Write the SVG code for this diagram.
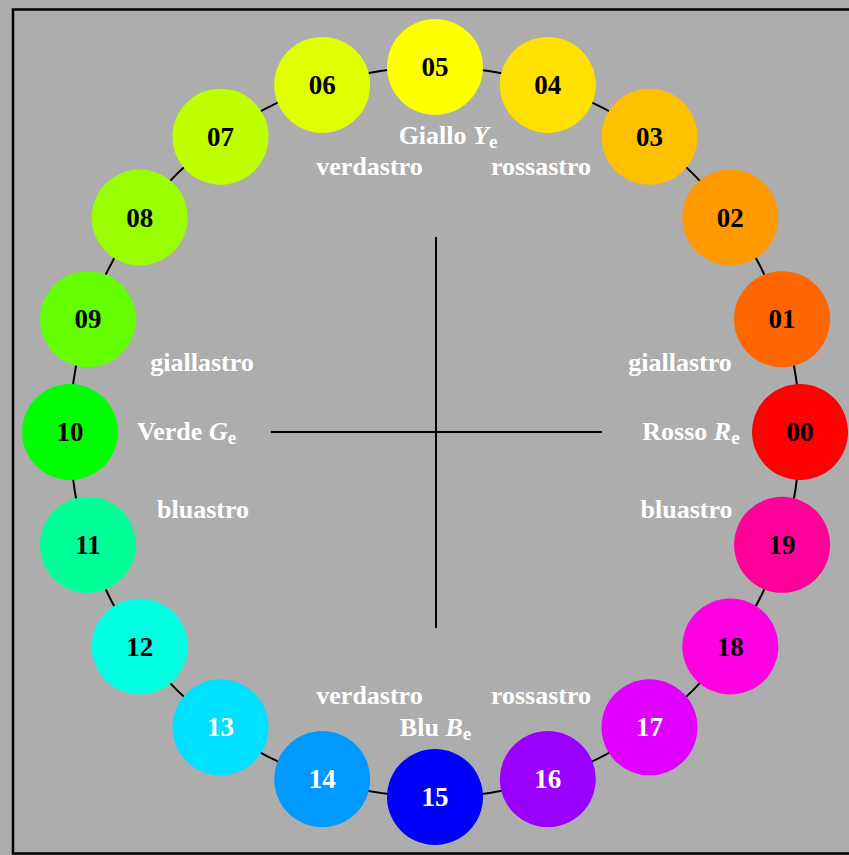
<svg xmlns="http://www.w3.org/2000/svg" width="849" height="855" viewBox="0 0 849 855">
<style>
.n{font-family:"Liberation Serif","Times New Roman",serif;font-weight:bold;font-size:27px;text-anchor:middle}
.b{fill:#000}.w{fill:#fff}
.l{font-family:"Liberation Serif","Times New Roman",serif;font-weight:bold;font-size:26px;fill:#fff;text-anchor:middle}
.s{font-size:19px}
.i{font-style:italic}
</style>
<rect x="0" y="0" width="849" height="855" fill="#ADADAD"/>
<rect x="13" y="9.5" width="850" height="844" fill="#ADADAD" stroke="#000" stroke-width="2.5"/>
<g id="connectors" stroke="#000" stroke-width="2" fill="none">
<circle cx="435" cy="432" r="365"/>
<line x1="436" y1="237" x2="436" y2="628"/>
<line x1="271" y1="432" x2="602" y2="432"/>
</g>
<g id="n00"><circle cx="800" cy="432" r="48" fill="#FF0000"/><text class="n b" x="800" y="441">00</text></g>
<g id="n01"><circle cx="782.1" cy="319.2" r="48" fill="#FF6600"/><text class="n b" x="782.1" y="328.2">01</text></g>
<g id="n02"><circle cx="730.3" cy="217.5" r="48" fill="#FF9900"/><text class="n b" x="730.3" y="226.5">02</text></g>
<g id="n03"><circle cx="649.5" cy="136.7" r="48" fill="#FFC000"/><text class="n b" x="649.5" y="145.7">03</text></g>
<g id="n04"><circle cx="547.8" cy="84.9" r="48" fill="#FFE000"/><text class="n b" x="547.8" y="93.9">04</text></g>
<g id="n05"><circle cx="435" cy="67" r="48" fill="#FFFF00"/><text class="n b" x="435" y="76">05</text></g>
<g id="n06"><circle cx="322.2" cy="84.9" r="48" fill="#E0FF00"/><text class="n b" x="322.2" y="93.9">06</text></g>
<g id="n07"><circle cx="220.5" cy="136.7" r="48" fill="#C0FF00"/><text class="n b" x="220.5" y="145.7">07</text></g>
<g id="n08"><circle cx="139.7" cy="217.5" r="48" fill="#99FF00"/><text class="n b" x="139.7" y="226.5">08</text></g>
<g id="n09"><circle cx="87.9" cy="319.2" r="48" fill="#66FF00"/><text class="n b" x="87.9" y="328.2">09</text></g>
<g id="n10"><circle cx="70" cy="432" r="48" fill="#00FF00"/><text class="n b" x="70" y="441">10</text></g>
<g id="n11"><circle cx="87.9" cy="544.8" r="48" fill="#00FF99"/><text class="n b" x="87.9" y="553.8">11</text></g>
<g id="n12"><circle cx="139.7" cy="646.5" r="48" fill="#00FFE0"/><text class="n b" x="139.7" y="655.5">12</text></g>
<g id="n13"><circle cx="220.5" cy="727.3" r="48" fill="#00E0FF"/><text class="n w" x="220.5" y="736.3">13</text></g>
<g id="n14"><circle cx="322.2" cy="779.1" r="48" fill="#0099FF"/><text class="n w" x="322.2" y="788.1">14</text></g>
<g id="n15"><circle cx="435" cy="797" r="48" fill="#0000FF"/><text class="n w" x="435" y="806">15</text></g>
<g id="n16"><circle cx="547.8" cy="779.1" r="48" fill="#9900FF"/><text class="n w" x="547.8" y="788.1">16</text></g>
<g id="n17"><circle cx="649.5" cy="727.3" r="48" fill="#E000FF"/><text class="n w" x="649.5" y="736.3">17</text></g>
<g id="n18"><circle cx="730.3" cy="646.5" r="48" fill="#FF00E0"/><text class="n b" x="730.3" y="655.5">18</text></g>
<g id="n19"><circle cx="782.1" cy="544.8" r="48" fill="#FF0099"/><text class="n b" x="782.1" y="553.8">19</text></g>
<g id="labels">
<text class="l" x="448" y="144">Giallo <tspan class="i">Y</tspan><tspan class="s" dy="4">e</tspan></text>
<text class="l" x="369.5" y="175">verdastro</text>
<text class="l" x="541" y="175">rossastro</text>
<text class="l" x="202" y="371">giallastro</text>
<text class="l" x="680" y="371">giallastro</text>
<text class="l" x="186.5" y="440">Verde <tspan class="i">G</tspan><tspan class="s" dy="4">e</tspan></text>
<text class="l" x="691" y="440">Rosso <tspan class="i">R</tspan><tspan class="s" dy="4">e</tspan></text>
<text class="l" x="203" y="518">bluastro</text>
<text class="l" x="686.5" y="518">bluastro</text>
<text class="l" x="369.5" y="704">verdastro</text>
<text class="l" x="541" y="704">rossastro</text>
<text class="l" x="435.5" y="736">Blu <tspan class="i">B</tspan><tspan class="s" dy="4">e</tspan></text>
</g>
</svg>
